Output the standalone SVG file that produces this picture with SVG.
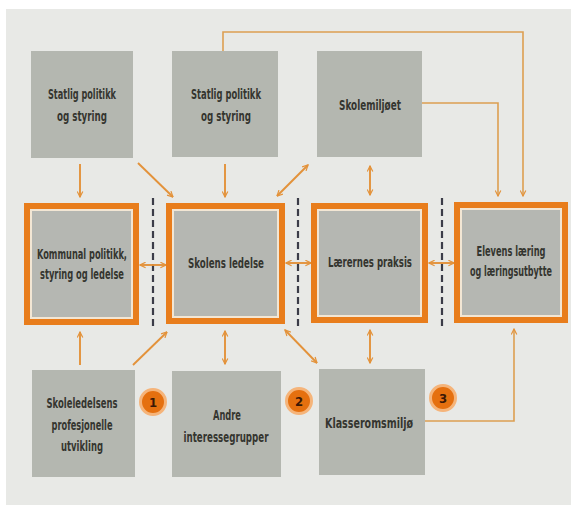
<svg xmlns="http://www.w3.org/2000/svg" width="571" height="505" viewBox="0 0 571 505">
<style>
.box{fill:#b4b7b0}
.obox{fill:#e87d1c}
.gap{fill:#f2e6d4}
.ibox{fill:#b5b7b2}
.t{font-family:"DejaVu Sans Condensed","DejaVu Sans",sans-serif;font-size:14px;font-weight:bold;fill:#34352f;text-anchor:middle}
.c{fill:none;stroke:#e3923a;stroke-width:1.9}
.cl{fill:none;stroke:#dc9f52;stroke-width:1.6}
.dash{stroke:#3b3c48;stroke-width:2.2;stroke-dasharray:7 4}
.num{fill:#e5700f;stroke:#f5b47a;stroke-width:3}
.nt{font-family:"DejaVu Sans Condensed","DejaVu Sans",sans-serif;font-size:13px;font-weight:bold;fill:#3a1806;text-anchor:middle}
</style>
<defs>
<marker id="ah" viewBox="0 0 10 10" refX="9" refY="5" markerWidth="7" markerHeight="7" markerUnits="userSpaceOnUse" orient="auto-start-reverse">
<path d="M1,1 L9,5 L1,9" fill="none" stroke="#e3923a" stroke-width="1.7"/>
</marker>
</defs>
<rect x="0" y="0" width="571" height="505" fill="#ffffff"/>
<rect x="6" y="9" width="565" height="496" fill="#e8e9e6"/>

<g id="dividers">
<line class="dash" x1="153" y1="198" x2="153" y2="329"/>
<line class="dash" x1="298" y1="198" x2="298" y2="328"/>
<line class="dash" x1="442" y1="198" x2="442" y2="328"/>
</g>

<g id="connectors">
<line class="c" x1="80" y1="164" x2="80" y2="197" marker-end="url(#ah)"/>
<line class="c" x1="138" y1="163" x2="173" y2="197" marker-end="url(#ah)"/>
<line class="c" x1="225" y1="164" x2="225" y2="197" marker-end="url(#ah)"/>
<line class="c" x1="277" y1="196" x2="308" y2="165" marker-start="url(#ah)" marker-end="url(#ah)"/>
<line class="c" x1="370" y1="166" x2="370" y2="195" marker-start="url(#ah)" marker-end="url(#ah)"/>
<polyline class="cl" points="223,51 223,32 523,32 523,196" marker-end="url(#ah)"/>
<polyline class="cl" points="422,103 498,103 498,196" marker-end="url(#ah)"/>
<line class="c" x1="140" y1="265" x2="166" y2="265" marker-start="url(#ah)" marker-end="url(#ah)"/>
<line class="c" x1="286" y1="263" x2="311" y2="263" marker-start="url(#ah)" marker-end="url(#ah)"/>
<line class="c" x1="429" y1="263" x2="454" y2="263" marker-start="url(#ah)" marker-end="url(#ah)"/>
<line class="c" x1="80" y1="365" x2="80" y2="332" marker-end="url(#ah)"/>
<line class="c" x1="133" y1="365" x2="167" y2="332" marker-end="url(#ah)"/>
<line class="c" x1="225" y1="331" x2="225" y2="364" marker-start="url(#ah)" marker-end="url(#ah)"/>
<line class="c" x1="285" y1="330" x2="317" y2="363" marker-start="url(#ah)" marker-end="url(#ah)"/>
<line class="c" x1="370" y1="330" x2="370" y2="363" marker-start="url(#ah)" marker-end="url(#ah)"/>
<polyline class="cl" points="425,421 514,421 514,329" marker-end="url(#ah)"/>
</g>

<g id="statlig1">
<rect class="box" x="31" y="51" width="102" height="107"/>
<text class="t" x="82" y="99" textLength="68" lengthAdjust="spacingAndGlyphs">Statlig politikk</text>
<text class="t" x="82" y="121" textLength="50" lengthAdjust="spacingAndGlyphs">og styring</text>
</g>
<g id="statlig2">
<rect class="box" x="172" y="51" width="106" height="106"/>
<text class="t" x="226" y="99" textLength="70" lengthAdjust="spacingAndGlyphs">Statlig politikk</text>
<text class="t" x="226" y="121" textLength="50" lengthAdjust="spacingAndGlyphs">og styring</text>
</g>
<g id="skolemiljoet">
<rect class="box" x="317" y="51" width="105" height="106"/>
<text class="t" x="370" y="110" textLength="62" lengthAdjust="spacingAndGlyphs">Skolemiljøet</text>
</g>

<g id="kommunal">
<rect class="obox" x="24" y="203" width="115" height="122"/>
<rect class="gap" x="30" y="209" width="103" height="110"/>
<rect class="ibox" x="32" y="211" width="99" height="106"/>
<text class="t" x="82" y="259" textLength="90" lengthAdjust="spacingAndGlyphs">Kommunal politikk,</text>
<text class="t" x="82" y="279" textLength="84" lengthAdjust="spacingAndGlyphs">styring og ledelse</text>
</g>
<g id="skolens">
<rect class="obox" x="166" y="203" width="119" height="121"/>
<rect class="gap" x="172" y="209" width="107" height="109"/>
<rect class="ibox" x="174" y="211" width="103" height="105"/>
<text class="t" x="226" y="268" textLength="76" lengthAdjust="spacingAndGlyphs">Skolens ledelse</text>
</g>
<g id="laerernes">
<rect class="obox" x="311" y="203" width="117" height="120"/>
<rect class="gap" x="317" y="209" width="105" height="108"/>
<rect class="ibox" x="319" y="211" width="101" height="104"/>
<text class="t" x="370" y="267" textLength="84" lengthAdjust="spacingAndGlyphs">Lærernes praksis</text>
</g>
<g id="elevens">
<rect class="obox" x="454" y="202" width="114" height="121"/>
<rect class="gap" x="460" y="208" width="102" height="109"/>
<rect class="ibox" x="462" y="210" width="98" height="105"/>
<text class="t" x="511" y="256" textLength="69" lengthAdjust="spacingAndGlyphs">Elevens læring</text>
<text class="t" x="511" y="276" textLength="82" lengthAdjust="spacingAndGlyphs">og læringsutbytte</text>
</g>

<g id="skoleledelsens">
<rect class="box" x="32" y="370" width="103" height="107"/>
<text class="t" x="82" y="408" textLength="71" lengthAdjust="spacingAndGlyphs">Skoleledelsens</text>
<text class="t" x="82" y="430" textLength="61" lengthAdjust="spacingAndGlyphs">profesjonelle</text>
<text class="t" x="82" y="451" textLength="42" lengthAdjust="spacingAndGlyphs">utvikling</text>
</g>
<g id="andre">
<rect class="box" x="172" y="371" width="109" height="106"/>
<text class="t" x="227" y="420" textLength="28" lengthAdjust="spacingAndGlyphs">Andre</text>
<text class="t" x="226" y="442" textLength="85" lengthAdjust="spacingAndGlyphs">interessegrupper</text>
</g>
<g id="klasserom">
<rect class="box" x="319" y="369" width="106" height="106"/>
<text class="t" x="369" y="428" textLength="88" lengthAdjust="spacingAndGlyphs">Klasseromsmiljø</text>
</g>

<g id="num1">
<circle class="num" cx="153" cy="402" r="12.5"/>
<text class="nt" x="153" y="407">1</text>
</g>
<g id="num2">
<circle class="num" cx="299" cy="401" r="12.5"/>
<text class="nt" x="299" y="406">2</text>
</g>
<g id="num3">
<circle class="num" cx="443" cy="398" r="12.5"/>
<text class="nt" x="443" y="403">3</text>
</g>
</svg>
